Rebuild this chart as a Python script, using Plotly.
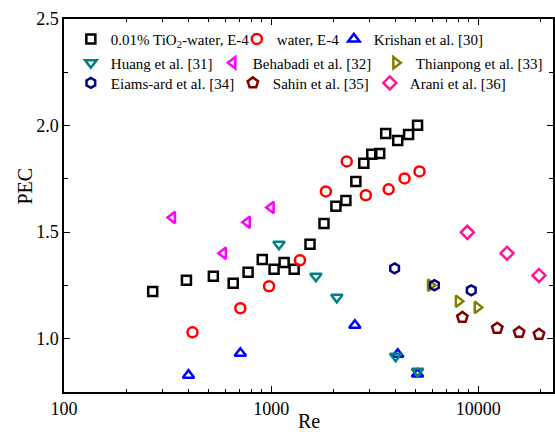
import plotly.graph_objects as go

# ---- data ----
tio2_re = [268, 390, 526, 656, 774, 906, 1033, 1155, 1291, 1540, 1799, 2054, 2295, 2564, 2801, 3060, 3343, 3573, 4083, 4607, 5090]
tio2_pec = [1.222, 1.274, 1.293, 1.260, 1.312, 1.372, 1.326, 1.358, 1.326, 1.443, 1.541, 1.621, 1.649, 1.738, 1.823, 1.865, 1.869, 1.963, 1.930, 1.958, 2.001]

water_re = [417, 710, 977, 1377, 1837, 2317, 2864, 3691, 4406, 5202]
water_pec = [1.030, 1.143, 1.246, 1.368, 1.691, 1.832, 1.673, 1.701, 1.752, 1.785]

krishan_re = [399, 710, 2535, 4083, 5090]
krishan_pec = [0.829, 0.932, 1.063, 0.927, 0.834]

huang_re = [1091, 1644, 2075, 3990, 5090]
huang_pec = [1.443, 1.293, 1.194, 0.918, 0.847]

behabadi_re = [334, 588, 767, 1000]
behabadi_pec = [1.569, 1.401, 1.546, 1.616]

thianpong_re = [5876, 8015, 9886]
thianpong_pec = [1.251, 1.176, 1.147]

eiams_re = [3945, 6138, 9248]
eiams_pec = [1.330, 1.251, 1.227]

sahin_re = [8376, 12340, 15740, 19630]
sahin_pec = [1.100, 1.049, 1.030, 1.021]

arani_re = [8850, 13770, 19630]
arani_pec = [1.499, 1.401, 1.297]

x_tickvals = [100, 1000, 10000]
x_ticktext = ["100", "1000", "10000"]
x_minor = [200, 300, 400, 500, 600, 700, 800, 900,
           2000, 3000, 4000, 5000, 6000, 7000, 8000, 9000, 20000]
y_tickvals = [1.0, 1.5, 2.0, 2.5]
y_ticktext = ["1.0", "1.5", "2.0", "2.5"]
y_minor = [1.25, 1.75, 2.25]

FONT = "Liberation Serif"

series = [
    ("0.01% TiO<sub>2</sub>-water, E-4", tio2_re, tio2_pec, "square-open", "#000000", 9, "legend", 121),
    ("water, E-4", water_re, water_pec, "circle-open", "#ff0000", 10, "legend", 52),
    ("Krishan et al. [30]", krishan_re, krishan_pec, "triangle-up-open", "#0000ff", 10, "legend", 120),
    ("Huang et al. [31]", huang_re, huang_pec, "triangle-down-open", "#008080", 10, "legend2", 97),
    ("Behabadi et al. [32]", behabadi_re, behabadi_pec, "triangle-left-open", "#ff00ff", 10, "legend2", 118),
    ("Thianpong et al. [33]", thianpong_re, thianpong_pec, "triangle-right-open", "#808000", 10, "legend2", 130),
    ("Eiams-ard et al. [34]", eiams_re, eiams_pec, "hexagon-open", "#000080", 10, "legend3", 117),
    ("Sahin et al. [35]", sahin_re, sahin_pec, "pentagon-open", "#800000", 11, "legend3", 92),
    ("Arani et al. [36]", arani_re, arani_pec, "diamond-open", "#ff1493", 10, "legend3", 110),
]

fig = go.Figure()
for name, xs, ys, sym, col, size, lg, lw in series:
    fig.add_trace(go.Scatter(
        x=xs, y=ys, mode="markers", name=name, legend=lg, legendwidth=lw,
        marker=dict(symbol=sym, size=size, color=col, line=dict(color=col, width=2.5)),
    ))

leg_common = dict(orientation="h", xanchor="left", yanchor="middle",
                  bgcolor="rgba(0,0,0,0)", borderwidth=0,
                  font=dict(family=FONT, size=15, color="#000000"),
                  itemsizing="trace", tracegroupgap=0)

fig.update_layout(
    width=555, height=432,
    margin=dict(l=64, r=0, t=19, b=40, pad=0),
    paper_bgcolor="white", plot_bgcolor="white",
    font=dict(family=FONT, size=18, color="#000000"),
    legend=dict(x=0.014, y=0.946, **leg_common),
    legend2=dict(x=0.014, y=0.882, **leg_common),
    legend3=dict(x=0.014, y=0.828, **leg_common),
    xaxis=dict(
        type="log", range=[2, 4.3606],
        tickmode="array", tickvals=x_tickvals, ticktext=x_ticktext,
        ticks="inside", ticklen=6, tickwidth=1.2, tickcolor="#000000",
        minor=dict(tickmode="array", tickvals=x_minor, ticks="inside", ticklen=3, tickwidth=1.2, tickcolor="#000000"),
        showline=True, linecolor="#000000", linewidth=1.5, mirror="allticks",
        showgrid=False, zeroline=False,
        tickfont=dict(family=FONT, size=18),
    ),
    yaxis=dict(
        range=[0.75, 2.5],
        tickmode="array", tickvals=y_tickvals, ticktext=y_ticktext,
        ticks="inside", ticklen=6, tickwidth=1.2, tickcolor="#000000",
        minor=dict(tickmode="array", tickvals=y_minor, ticks="inside", ticklen=4, tickwidth=1.2, tickcolor="#000000"),
        showline=True, linecolor="#000000", linewidth=1.5, mirror="allticks",
        showgrid=False, zeroline=False,
        tickfont=dict(family=FONT, size=18),
    ),
    annotations=[
        dict(text="Re", xref="paper", yref="paper", x=0.5, y=-0.078, xanchor="center", yanchor="middle",
             showarrow=False, font=dict(family=FONT, size=20)),
        dict(text="PEC", xref="paper", yref="paper", x=-0.08, y=0.553, xanchor="center", yanchor="middle",
             textangle=-90, showarrow=False, font=dict(family=FONT, size=20)),
    ],
)

fig.write_html("out.html")
